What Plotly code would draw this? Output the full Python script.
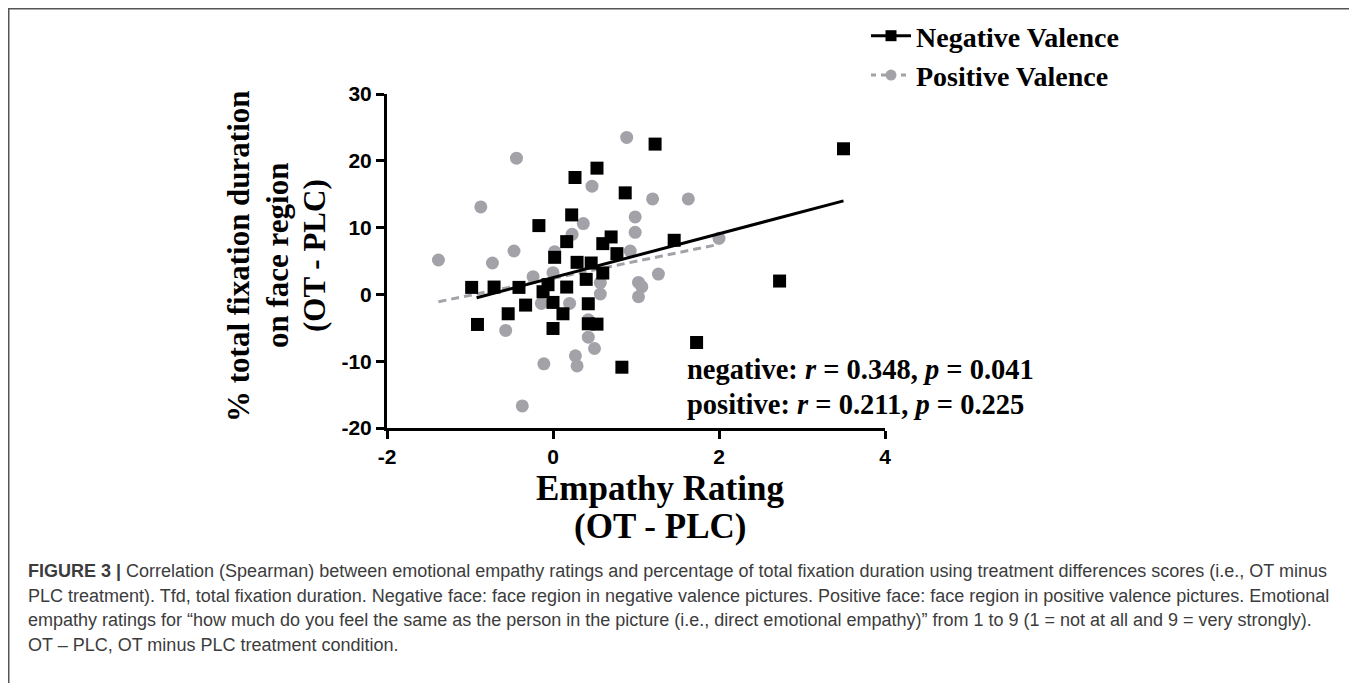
import plotly.graph_objects as go

# ---------------- data ----------------
neg_x = [1.23, 0.53, 0.265, 0.87, 0.225, -0.17, 0.165, 0.70, 0.60, 1.46,
         0.77, 0.02, 0.29, 0.46, 0.60, 0.40, -0.98, -0.71, -0.41, -0.06,
         0.165, -0.12, 0.0, -0.33, 0.425, -0.54, 0.12, -0.91, 0.425, 0.53,
         0.0, 0.83, 3.50, 2.73, 1.73]
neg_y = [22.5, 18.9, 17.5, 15.2, 11.9, 10.3, 7.9, 8.6, 7.6, 8.1,
         6.1, 5.55, 4.8, 4.7, 3.2, 2.25, 1.05, 1.1, 1.05, 1.45,
         1.1, 0.4, -1.2, -1.6, -1.4, -2.9, -2.9, -4.5, -4.4, -4.45,
         -5.1, -10.9, 21.8, 2.0, -7.2]

pos_x = [0.888, -0.44, 0.47, 1.20, 1.63, -0.87, 0.99, 0.365, 0.99, 0.23,
         0.93, -0.47, 0.02, -1.38, -0.73, 0.0, -0.24, 0.57, 1.27, 1.03,
         1.07, 1.03, 0.57, -0.14, 0.2, -0.57, 0.425, 0.425, 0.5, 0.27,
         0.29, -0.11, -0.37, 2.0]
pos_y = [23.5, 20.4, 16.2, 14.3, 14.3, 13.1, 11.6, 10.6, 9.3, 9.0,
         6.5, 6.5, 6.4, 5.15, 4.7, 3.25, 2.65, 1.75, 3.05, 1.8,
         1.15, -0.35, 0.06, -1.35, -1.35, -5.4, -3.8, -6.4, -8.1, -9.2,
         -10.7, -10.4, -16.7, 8.4]

neg_fit_x = [-0.92, 3.5]
neg_fit_y = [-0.5, 14.0]
pos_fit_x = [-1.38, 2.0]
pos_fit_y = [-1.1, 7.5]

x_ticks = [-2, 0, 2, 4]
x_tick_labels = ["-2", "0", "2", "4"]
y_ticks = [-20, -10, 0, 10, 20, 30]
y_tick_labels = ["-20", "-10", "0", "10", "20", "30"]

series_names = ["Negative Valence", "Positive Valence"]
stats_lines = ["negative: <i>r</i> = 0.348, <i>p</i> = 0.041",
               "positive: <i>r</i> = 0.211, <i>p</i> = 0.225"]
x_title_lines = ["Empathy Rating", "(OT - PLC)"]
y_title_lines = ["% total fixation duration", "on face region", "(OT - PLC)"]
caption_lines = [
    "<b>FIGURE 3 |</b> Correlation (Spearman) between emotional empathy ratings and percentage of total fixation duration using treatment differences scores (i.e., OT minus",
    "PLC treatment). Tfd, total fixation duration. Negative face: face region in negative valence pictures. Positive face: face region in positive valence pictures. Emotional",
    "empathy ratings for \u201chow much do you feel the same as the person in the picture (i.e., direct emotional empathy)\u201d from 1 to 9 (1 = not at all and 9 = very strongly).",
    "OT \u2013 PLC, OT minus PLC treatment condition.",
]

# ---------------- layout geometry (page pixels) ----------------
W, H = 1357, 683
OFF = 8                      # page body margin
L, R, T, B = 387, 885, 94, 428  # plot area in page pixels


def px(xp):
    return (xp - L) / (R - L)


def py(yp):
    return (B - yp) / (B - T)


BLACK = "#000000"
GRAY = "#a2a2a8"
SERIF = "Liberation Serif, Times New Roman, serif"
SANS = "Liberation Sans, Arial, sans-serif"
CAP = "Liberation Sans, Arial, sans-serif"

fig = go.Figure()

# legend entries (line + marker)
fig.add_trace(go.Scatter(x=[None], y=[None], mode="lines+markers", name=series_names[0],
                         line=dict(color=BLACK, width=3),
                         marker=dict(symbol="square", size=11, color=BLACK)))
fig.add_trace(go.Scatter(x=[None], y=[None], mode="lines+markers", name=series_names[1],
                         line=dict(color=GRAY, width=3, dash="5px,5px"),
                         marker=dict(symbol="circle", size=11, color=GRAY)))

# positive valence (behind)
fig.add_trace(go.Scatter(x=pos_x, y=pos_y, mode="markers", showlegend=False,
                         marker=dict(symbol="circle", size=13, color=GRAY, line=dict(width=0))))
fig.add_trace(go.Scatter(x=pos_fit_x, y=pos_fit_y, mode="lines", showlegend=False,
                         line=dict(color=GRAY, width=3, dash="8px,5px")))
# negative valence
fig.add_trace(go.Scatter(x=neg_x, y=neg_y, mode="markers", showlegend=False,
                         marker=dict(symbol="square", size=13, color=BLACK, line=dict(width=0))))
fig.add_trace(go.Scatter(x=neg_fit_x, y=neg_fit_y, mode="lines", showlegend=False,
                         line=dict(color=BLACK, width=3)))

annotations = []
# stats text
for s, yy in zip(stats_lines, [369, 404]):
    annotations.append(dict(xref="paper", yref="paper", x=px(685), y=py(yy),
                            xanchor="left", yanchor="middle", showarrow=False,
                            text="<b>" + s + "</b>",
                            font=dict(family=SERIF, size=28.5, color=BLACK)))
# x axis title
for s, yy in zip(x_title_lines, [488, 526]):
    annotations.append(dict(xref="paper", yref="paper", x=px(660), y=py(yy),
                            xanchor="center", yanchor="middle", showarrow=False,
                            text="<b>" + s + "</b>",
                            font=dict(family=SERIF, size=35, color=BLACK)))
# y axis title
for s, xx in zip(y_title_lines, [238, 277, 314]):
    annotations.append(dict(xref="paper", yref="paper", x=px(xx), y=py(256),
                            xanchor="center", yanchor="middle", showarrow=False,
                            textangle=-90, text="<b>" + s + "</b>",
                            font=dict(family=SERIF, size=31, color=BLACK)))
# caption
for line, yy in zip(caption_lines, [571, 596, 620, 645]):
    annotations.append(dict(xref="paper", yref="paper", x=px(26), y=py(yy),
                            xanchor="left", yanchor="middle", showarrow=False,
                            text=line, font=dict(family=CAP, size=18, color="#3c3c3c")))

shapes = [dict(type="rect", xref="paper", yref="paper",
               x0=px(8.75), x1=px(1355), y0=py(720), y1=py(8.75),
               line=dict(color="#555555", width=1.5), fillcolor="rgba(0,0,0,0)", layer="below")]

axis_common = dict(showline=True, linecolor=BLACK, linewidth=3, ticks="outside",
                   ticklen=8, tickwidth=3, tickcolor=BLACK, showgrid=False, zeroline=False,
                   tickfont=dict(family=SANS, size=21, color=BLACK, weight="bold"))

fig.update_layout(
    width=W, height=H,
    margin=dict(l=L - OFF, r=W - (R - OFF), t=T - OFF, b=H - (B - OFF), pad=0,
                autoexpand=False),
    paper_bgcolor="white", plot_bgcolor="white",
    xaxis=dict(range=[-2, 4], tickvals=x_ticks, ticktext=x_tick_labels, **axis_common),
    yaxis=dict(range=[-20, 30], tickvals=y_ticks, ticktext=y_tick_labels, **axis_common),
    showlegend=True,
    legend=dict(x=px(866), y=py(11), xanchor="left", yanchor="top",
                font=dict(family=SERIF, size=28, color=BLACK, weight="bold"),
                bgcolor="rgba(0,0,0,0)", itemwidth=40, tracegroupgap=0),
    annotations=annotations,
    shapes=shapes,
)

fig.write_html("out.html")
